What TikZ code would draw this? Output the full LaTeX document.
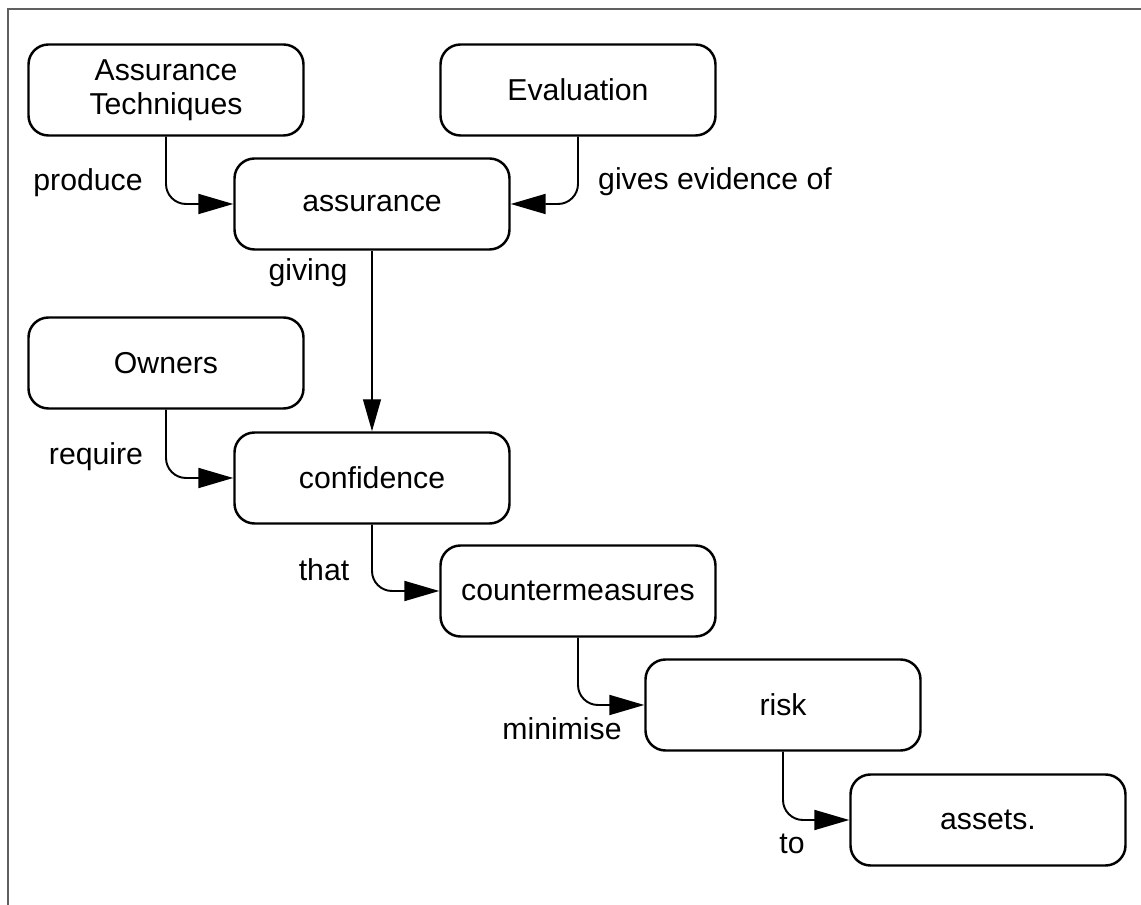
\documentclass[tikz,border=0pt]{standalone}
\usepackage{fontspec}
\setmainfont{Liberation Sans}
\usepackage{tikz, xcolor}
\usetikzlibrary{arrows.meta}
\tikzset{concept/.style = {draw, line width = 1.4pt, rounded corners = 0.4cm, minimum width = 5.5cm, minimum height = 1.82cm, align = center, font = \fontsize{17.2}{19.5}\selectfont}}
\tikzset{relation/.style = {font = \fontsize{17.2}{19.5}\selectfont}}
\tikzset{link/.style = {line width = 1.1pt, rounded corners = 0.4cm, -{Triangle[length = 7mm, width = 4mm]}}}

\begin{document}
\begin{tikzpicture}
\useasboundingbox (0,0) rectangle (22.82,18.10);
\draw[gray!75!black, line width = 1.1pt] (0.16,0) -- (0.16,17.92) -- (22.82,17.92);
\node[concept] (tech) at (3.32,16.30) {Assurance\\Techniques};
\node[concept] (eval) at (11.56,16.30) {Evaluation};
\node[concept] (assur) at (7.44,14.02) {assurance};
\node[concept] (owners) at (3.32,10.84) {Owners};
\node[concept] (conf) at (7.44,8.54) {confidence};
\node[concept] (counter) at (11.56,6.28) {countermeasures};
\node[concept] (risk) at (15.66,4.00) {risk};
\node[concept] (assets) at (19.76,1.70) {assets.};
\node[relation] (produce) at (1.76,14.44) {produce};
\node[relation] (evidence) at (14.30,14.46) {gives evidence of};
\node[relation] (giving) at (6.16,12.64) {giving};
\node[relation] (require) at (1.92,8.96) {require};
\node[relation] (that) at (6.48,6.70) {that};
\node[relation] (minimise) at (11.24,3.52) {minimise};
\node[relation] (to) at (15.84,1.22) {to};
\draw[link] (tech) |- (assur);
\draw[link] (eval) |- (assur);
\draw[line width = 0.7pt, -{Triangle[length = 6.4mm, width = 3.6mm]}] (assur) -- (conf);
\draw[link] (owners) |- (conf);
\draw[link] (conf) |- (counter);
\draw[link] (counter) |- (risk);
\draw[link] (risk) |- (assets);
\end{tikzpicture}
\end{document}
